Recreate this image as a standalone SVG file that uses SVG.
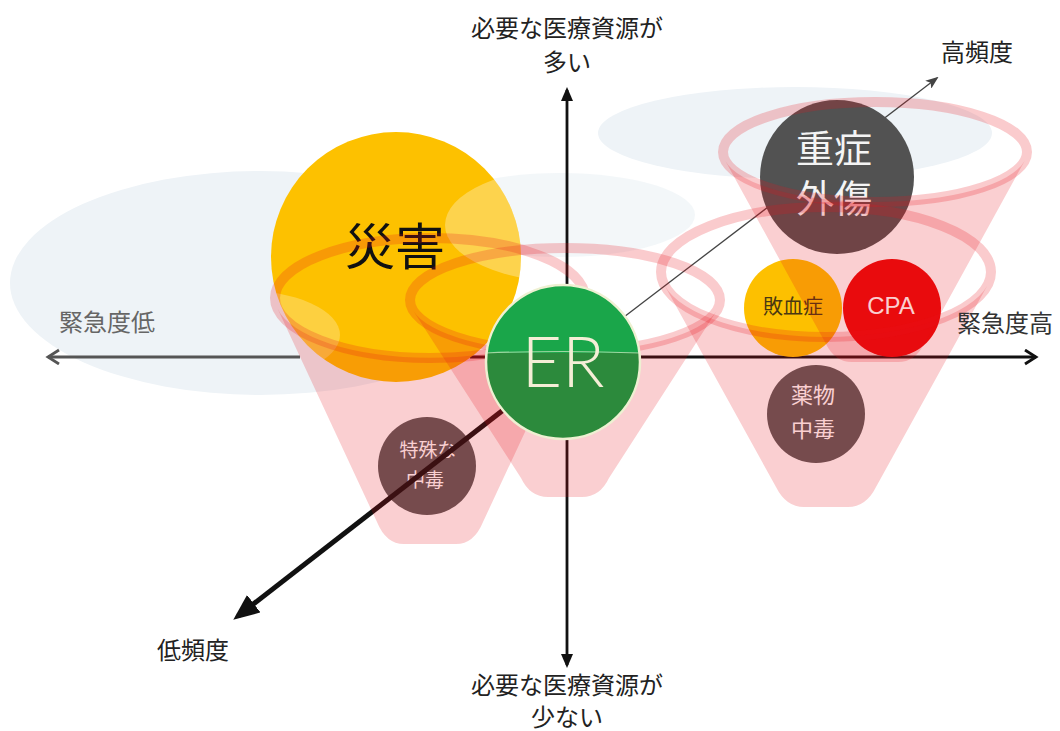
<svg xmlns="http://www.w3.org/2000/svg" width="1060" height="731" viewBox="0 0 1060 731">
<defs>
<style>
.bg{fill:#eef3f7}
.lbl{font-family:"Noto Sans CJK JP","Noto Sans CJK SC",sans-serif;font-size:24px;fill:#222;text-anchor:middle}
.in{font-family:"Noto Sans CJK JP","Noto Sans CJK SC",sans-serif;text-anchor:middle}
.body{fill:#e8101a;fill-opacity:0.2}
.ring{fill:none;stroke:#e8101a;stroke-opacity:0.22;stroke-width:10}
.ax{stroke:#111;stroke-width:2.8;fill:none}
</style>
<marker id="chev" markerUnits="userSpaceOnUse" markerWidth="18" markerHeight="18" refX="13" refY="8" orient="auto"><path d="M2,1 L13,8 L2,15" fill="none" stroke="#111" stroke-width="2.8"/></marker>
<marker id="chevg" markerUnits="userSpaceOnUse" markerWidth="18" markerHeight="18" refX="13" refY="8" orient="auto"><path d="M2,1 L13,8 L2,15" fill="none" stroke="#555" stroke-width="2.8"/></marker>
<marker id="tri" markerUnits="userSpaceOnUse" markerWidth="14" markerHeight="12" refX="11" refY="6" orient="auto"><path d="M0,0 L14,6 L0,12 Z" fill="#111"/></marker>
<marker id="tribig" markerUnits="userSpaceOnUse" markerWidth="26" markerHeight="22" refX="20" refY="11" orient="auto"><path d="M0,0 L26,11 L0,22 Z" fill="#111"/></marker>
<marker id="thin" markerUnits="userSpaceOnUse" markerWidth="13" markerHeight="10" refX="11" refY="5" orient="auto"><path d="M0,0 L13,5 L0,10 L3,5 Z" fill="#444"/></marker>
<clipPath id="clipSaigai"><circle cx="396" cy="257" r="125"/></clipPath>
<clipPath id="clipER"><circle cx="563" cy="362" r="77"/></clipPath>
</defs>

<g id="background">
<rect x="0" y="0" width="1060" height="731" fill="#ffffff"/>
<ellipse class="bg" cx="260" cy="283" rx="250" ry="112"/>
<ellipse class="bg" cx="795" cy="133" rx="197" ry="46"/>
<ellipse class="bg" cx="560" cy="215" rx="135" ry="42" fill-opacity="0.7"/>
</g>

<g id="n-tokushu">
<circle cx="427" cy="466" r="49" fill="#5a5a5a"/>
<text class="in" x="428" y="457" font-size="19" fill="#ffffff">特殊な</text>
<text class="in" x="425" y="487" font-size="19" fill="#ffffff">中毒</text>
</g>

<g id="connectors">
<line class="ax" x1="567" y1="362" x2="567" y2="90" marker-end="url(#tri)"/>
<line class="ax" x1="567" y1="362" x2="567" y2="665" marker-end="url(#tri)"/>
<line x1="300" y1="357" x2="48" y2="357" stroke="#555" stroke-width="2.8" marker-end="url(#chevg)"/>
<line class="ax" x1="470" y1="357" x2="1036" y2="357" marker-end="url(#chev)"/>
<line x1="565" y1="362" x2="238" y2="616" stroke="#111" stroke-width="5" marker-end="url(#tribig)"/>
<line x1="565" y1="362" x2="937" y2="78" stroke="#444" stroke-width="1.3" marker-end="url(#thin)"/>
</g>

<g id="n-saigai">
<circle cx="396" cy="257" r="125" fill="#fdc100"/>
<g clip-path="url(#clipSaigai)">
<ellipse cx="575" cy="225" rx="130" ry="58" fill="#ffffff" fill-opacity="0.3"/>
<ellipse cx="240" cy="335" rx="100" ry="45" fill="#ffffff" fill-opacity="0.25"/>
</g>
<text class="in" x="395" y="265" font-size="50" fill="#111">災害</text>
</g>

<g id="n-jusho">
<circle cx="837" cy="177" r="77" fill="#525252"/>
<text class="in" x="834" y="162" font-size="38" fill="#f4f4f4">重症</text>
<text class="in" x="834" y="212" font-size="38" fill="#f4f4f4">外傷</text>
</g>

<g id="n-haiketsu">
<circle cx="793" cy="308" r="49" fill="#fdc000"/>
<text class="in" x="793" y="314" font-size="20" fill="#4a3812">敗血症</text>
</g>

<g id="n-cpa">
<circle cx="892" cy="308" r="49" fill="#ea0a0a"/>
<text x="891" y="314" font-family="'Liberation Sans', Arial, sans-serif" font-size="24" fill="#ffffff" text-anchor="middle">CPA</text>
</g>

<g id="n-yakubutsu">
<circle cx="816" cy="414" r="49" fill="#5a5a5a"/>
<text class="in" x="813" y="403" font-size="22" fill="#ffffff">薬物</text>
<text class="in" x="813" y="437" font-size="22" fill="#ffffff">中毒</text>
</g>

<g id="funnels">
<path class="body" d="M725.4,160.9 L826,344 Q835,362 852,362 L898,362 Q915,362 924,344 L1024.6,160.9 A152,50 0 0 1 725.4,160.9 Z"/>
<path class="body" d="M664.8,285.8 L776,487 Q786,507 804,507 L848,507 Q866,507 876,487 L987.2,285.8 A165,65 0 0 1 664.8,285.8 Z"/>
<path class="body" d="M277.5,308.6 L377,522 Q386,544 404,544 L456,544 Q474,544 483,522 L582.5,308.6 A155,60 0 0 1 277.5,308.6 Z"/>
<path class="body" d="M413.4,310.9 L521,478 Q530,497 548,497 L582,497 Q600,497 609,478 L716.6,310.9 A155,52 0 0 1 413.4,310.9 Z"/>
<ellipse class="ring" cx="875" cy="152" rx="152" ry="50"/>
<ellipse class="ring" cx="826" cy="272" rx="165" ry="65"/>
<ellipse class="ring" cx="430" cy="298" rx="155" ry="60"/>
<ellipse class="ring" cx="565" cy="300" rx="155" ry="52"/>
</g>

<g id="n-er">
<circle cx="563" cy="362" r="77" fill="#1aa64a"/>
<rect x="480" y="353" width="170" height="90" fill="#2c8a3c" clip-path="url(#clipER)"/>
<path d="M486,353 Q563,350 640,353" fill="none" stroke="#d8ecc8" stroke-width="1.2" stroke-opacity="0.7"/>
<circle cx="563" cy="362" r="77" fill="none" stroke="#eef0d2" stroke-width="2.5"/>
<text x="563" y="387" font-family="Lato, 'Open Sans', sans-serif" font-weight="300" font-size="70" fill="#f4eed6" text-anchor="middle">ER</text>
</g>

<g id="axis-labels">
<text class="lbl" x="567" y="37">必要な医療資源が</text>
<text class="lbl" x="567" y="71">多い</text>
<text class="lbl" x="567" y="694">必要な医療資源が</text>
<text class="lbl" x="567" y="726">少ない</text>
<text class="lbl" x="977" y="61">高頻度</text>
<text class="lbl" x="193" y="659">低頻度</text>
<text class="lbl" x="107" y="331" style="fill:#666">緊急度低</text>
<text class="lbl" x="1005" y="332" style="fill:#333">緊急度高</text>
</g>
</svg>
